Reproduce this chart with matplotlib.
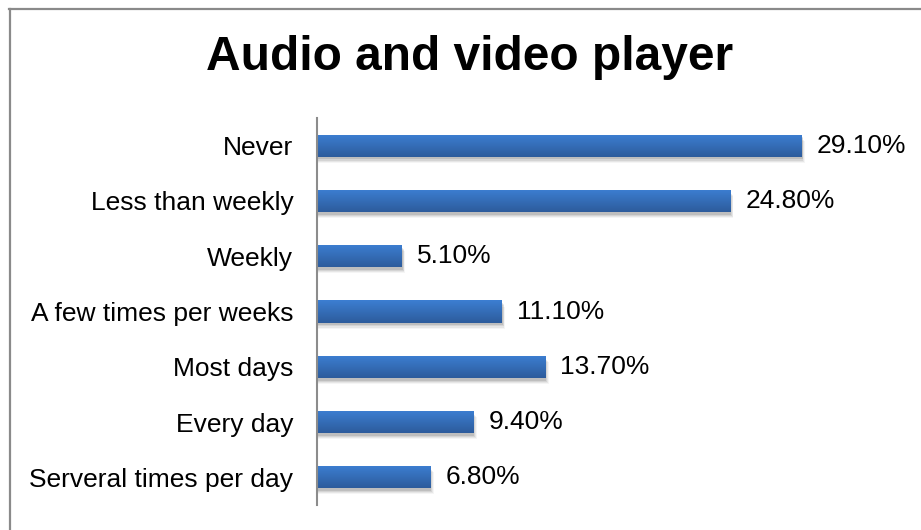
import matplotlib
matplotlib.use('Agg')
import matplotlib.pyplot as plt
import numpy as np
from matplotlib.colors import LinearSegmentedColormap

plt.rcParams['font.family'] = ['Liberation Sans', 'DejaVu Sans']

categories = ['Never', 'Less than weekly', 'Weekly', 'A few times per weeks',
              'Most days', 'Every day', 'Serveral times per day']
values = [29.10, 24.80, 5.10, 11.10, 13.70, 9.40, 6.80]
value_labels = ['29.10%', '24.80%', '5.10%', '11.10%', '13.70%', '9.40%', '6.80%']

fig = plt.figure(figsize=(9.21, 5.30), dpi=100)
ax = fig.add_axes([317 / 921, 1 - 505 / 530, 583 / 921, 387 / 530])

# outer frame (only top and left are visible in the crop)
fig.add_artist(plt.Line2D([9 / 921, 1], [1 - 8.5 / 530] * 2, color='#8a8a8a', lw=1.6,
                          transform=fig.transFigure))
fig.add_artist(plt.Line2D([9.5 / 921] * 2, [0, 1 - 8.5 / 530], color='#8a8a8a', lw=1.6,
                          transform=fig.transFigure))

ypos = np.arange(len(categories))
h = 0.4
# light at the top edge, darker toward the bottom
cmap = LinearSegmentedColormap.from_list('bar', ['#2d5c9c', '#3c7ed2'])
grad = np.linspace(0, 1, 64).reshape(-1, 1)

for y, v in zip(ypos, values):
    # soft shadow
    for k, a in enumerate([0.10, 0.08, 0.06, 0.04]):
        d = 0.02 * (k + 1)
        ax.add_patch(plt.Rectangle((0, y - h / 2 + d + 0.03), v + d * 2.5, h,
                                   color='black', alpha=a, lw=0, zorder=1))
    bar = ax.barh(y, v, height=h, color='none', zorder=2)[0]
    im = ax.imshow(grad, cmap=cmap, aspect='auto', zorder=3,
                   extent=(0, v, y + h / 2, y - h / 2), origin='lower')
    im.set_clip_path(bar)
    ax.annotate(value_labels[y], (v, y), xytext=(11, 0), textcoords='offset points',
                va='center', ha='left', fontsize=19, color='black')

ax.set_xlim(0, 35)
ax.set_ylim(len(categories) - 0.5, -0.5)
ax.set_yticks(ypos)
ax.set_yticklabels(categories, fontsize=19)
ax.tick_params(axis='y', length=0, pad=17)
ax.set_xticks([])
for s in ['top', 'right', 'bottom']:
    ax.spines[s].set_visible(False)
ax.spines['left'].set_color('#8c8c8c')
ax.spines['left'].set_linewidth(1.5)
ax.spines['left'].set_zorder(5)

fig.text(470 / 921, 1 - 58 / 530, 'Audio and video player', ha='center', va='center',
         fontsize=34.5, fontweight='bold')

fig.savefig('out.png', dpi=100)
